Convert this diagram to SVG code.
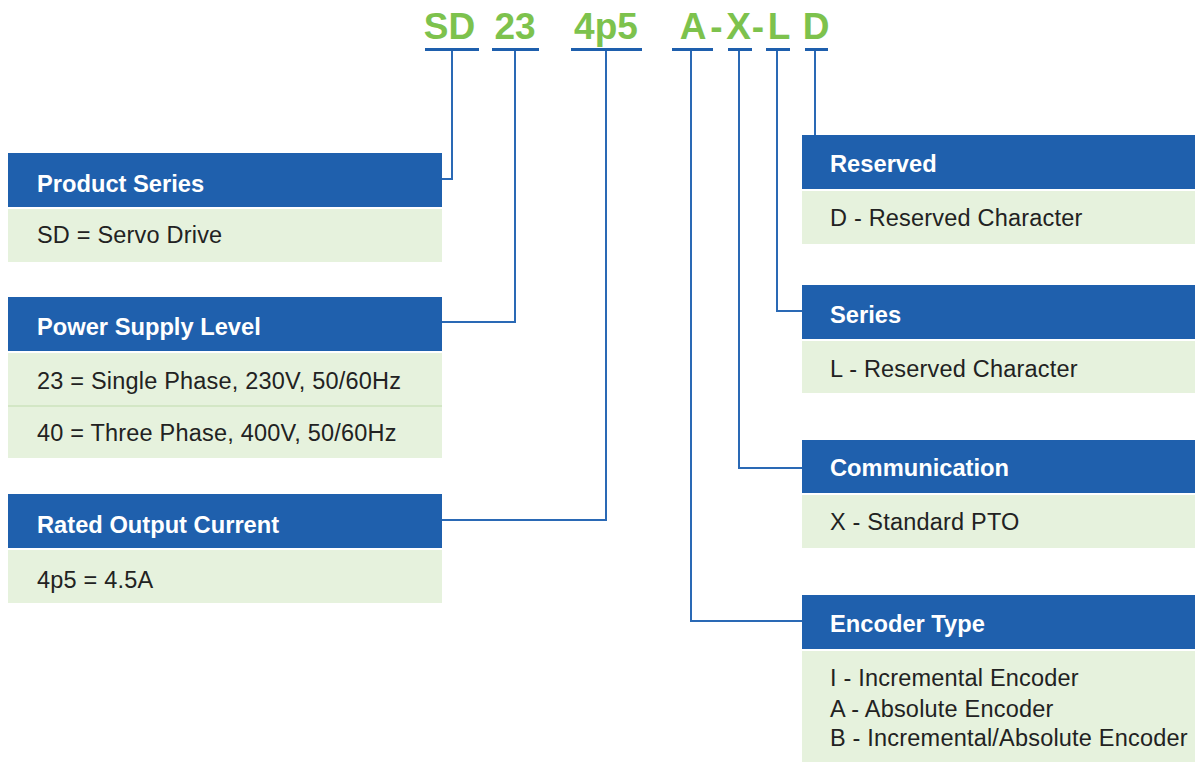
<svg xmlns="http://www.w3.org/2000/svg" width="1195" height="762" viewBox="0 0 1195 762">
<style>
.code{font-family:"Liberation Sans",Arial,sans-serif;font-weight:bold;font-size:37px;fill:#7dc24d;text-anchor:middle}
.ul{stroke:#1e5fad;stroke-width:3;fill:none}
.con{stroke:#2a69b5;stroke-width:2;fill:none}
.hd{fill:#1f60ad}
.bd{fill:#e6f2dd}
.div{fill:#d3e7c5}
.ht{font-family:"Liberation Sans",Arial,sans-serif;font-weight:bold;font-size:23.7px;fill:#ffffff}
.bt{font-family:"Liberation Sans",Arial,sans-serif;font-size:23.5px;letter-spacing:0.2px;fill:#222222}
</style>
<rect width="1195" height="762" fill="#ffffff"/>
<g id="code">
<text class="code" x="449.5" y="39">SD</text>
<text class="code" x="515" y="39">23</text>
<text class="code" x="606" y="39">4p5</text>
<text class="code" x="693" y="39">A</text>
<text class="code" x="716.5" y="39">-</text>
<text class="code" x="738.5" y="39">X</text>
<text class="code" x="758" y="39">-</text>
<text class="code" x="779" y="39">L</text>
<text class="code" x="816" y="39">D</text>
<line class="ul" x1="425" y1="49.5" x2="479" y2="49.5"/>
<line class="ul" x1="492" y1="49.5" x2="539" y2="49.5"/>
<line class="ul" x1="571" y1="49.5" x2="642" y2="49.5"/>
<line class="ul" x1="672" y1="49.5" x2="713" y2="49.5"/>
<line class="ul" x1="728" y1="49.5" x2="752" y2="49.5"/>
<line class="ul" x1="766" y1="49.5" x2="790" y2="49.5"/>
<line class="ul" x1="805" y1="49.5" x2="828" y2="49.5"/>
</g>
<g id="connectors">
<polyline class="con" points="452,51 452,179 442,179"/>
<polyline class="con" points="515,51 515,322 442,322"/>
<polyline class="con" points="606,51 606,520 442,520"/>
<polyline class="con" points="691,51 691,621 802,621"/>
<polyline class="con" points="739,51 739,468 802,468"/>
<polyline class="con" points="777,51 777,311 802,311"/>
<polyline class="con" points="815,51 815,135"/>
</g>
<g id="product-series">
<rect class="hd" x="8" y="153" width="434" height="54"/>
<rect class="bd" x="8" y="209" width="434" height="53"/>
<text class="ht" x="37" y="192">Product Series</text>
<text class="bt" x="37" y="243">SD = Servo Drive</text>
</g>
<g id="power-supply-level">
<rect class="hd" x="8" y="297" width="434" height="54"/>
<rect class="bd" x="8" y="353" width="434" height="105"/>
<rect class="div" x="8" y="405" width="434" height="2"/>
<text class="ht" x="37" y="335">Power Supply Level</text>
<text class="bt" x="37" y="389">23 = Single Phase, 230V, 50/60Hz</text>
<text class="bt" x="37" y="441">40 = Three Phase, 400V, 50/60Hz</text>
</g>
<g id="rated-output-current">
<rect class="hd" x="8" y="494" width="434" height="54"/>
<rect class="bd" x="8" y="550" width="434" height="53"/>
<text class="ht" x="37" y="533">Rated Output Current</text>
<text class="bt" x="37" y="588">4p5 = 4.5A</text>
</g>
<g id="reserved">
<rect class="hd" x="802" y="135" width="393" height="54"/>
<rect class="bd" x="802" y="191" width="393" height="53"/>
<text class="ht" x="830" y="172">Reserved</text>
<text class="bt" x="830" y="226">D - Reserved Character</text>
</g>
<g id="series">
<rect class="hd" x="802" y="285" width="393" height="54"/>
<rect class="bd" x="802" y="341" width="393" height="52"/>
<text class="ht" x="830" y="323">Series</text>
<text class="bt" x="830" y="377">L - Reserved Character</text>
</g>
<g id="communication">
<rect class="hd" x="802" y="440" width="393" height="53"/>
<rect class="bd" x="802" y="495" width="393" height="53"/>
<text class="ht" x="830" y="476">Communication</text>
<text class="bt" x="830" y="530">X - Standard PTO</text>
</g>
<g id="encoder-type">
<rect class="hd" x="802" y="595" width="393" height="54"/>
<rect class="bd" x="802" y="651" width="393" height="111"/>
<text class="ht" x="830" y="632">Encoder Type</text>
<text class="bt" x="830" y="686">I - Incremental Encoder</text>
<text class="bt" x="830" y="717">A - Absolute Encoder</text>
<text class="bt" x="830" y="746">B - Incremental/Absolute Encoder</text>
</g>
</svg>
